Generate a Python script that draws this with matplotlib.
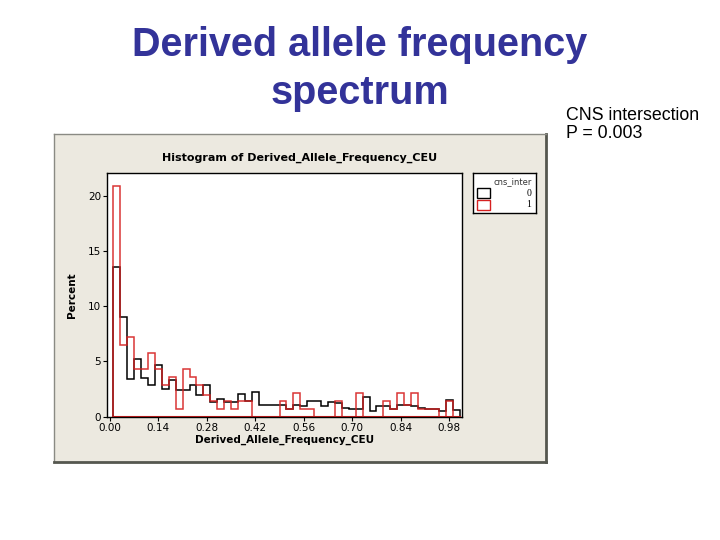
import numpy as np
import matplotlib
matplotlib.use('Agg')
import matplotlib.pyplot as plt
from matplotlib.patches import Rectangle

# bin edges 0.01 .. 1.01, width 0.02
edges = np.round(np.arange(0.01, 1.0101, 0.02), 2)

# percent per bin, cns_inter = 0 (black)
pct_0 = [13.6, 9.0, 3.4, 5.2, 3.5, 2.9, 4.7, 2.5, 3.3, 2.4,
         2.4, 2.9, 2.0, 2.9, 1.3, 1.6, 1.3, 1.3, 2.1, 1.45,
         2.2, 1.1, 1.1, 1.1, 1.1, 0.7, 1.1, 1.0, 1.4, 1.45,
         1.0, 1.3, 1.2, 0.75, 0.7, 0.7, 1.75, 0.5, 1.0, 1.0,
         0.7, 1.1, 1.1, 1.0, 0.8, 0.7, 0.7, 0.5, 1.5, 0.6]

# percent per bin, cns_inter = 1 (red)
pct_1 = [20.85, 6.45, 7.2, 4.3, 4.3, 5.75, 4.3, 2.9, 3.6, 0.72,
         4.3, 3.6, 2.9, 2.0, 1.44, 0.72, 1.44, 0.72, 1.44, 1.44,
         0, 0, 0, 0, 1.44, 0.72, 2.16, 0.72, 0.72, 0,
         0, 0, 1.44, 0, 0, 2.16, 0, 0, 0, 1.44,
         0.72, 2.16, 1.08, 2.16, 0.72, 0.72, 0.72, 0, 1.44, 0]

xticks = [0.00, 0.14, 0.28, 0.42, 0.56, 0.70, 0.84, 0.98]
yticks = [0, 5, 10, 15, 20]

beige = '#ECE9E0'
tickfont = 'DejaVu Sans'

fig = plt.figure(figsize=(7.2, 5.4), dpi=100)
fig.patch.set_facecolor('white')

# slide title and side note
fig.text(0.5, 0.952, 'Derived allele frequency\nspectrum', ha='center', va='top',
         fontsize=28.5, fontweight='bold', color='#333399', family='Liberation Sans',
         linespacing=1.33)
fig.text(0.786, 0.802, 'CNS intersection\nP = 0.003', ha='left', va='top',
         fontsize=12.8, color='black', family='Liberation Sans', linespacing=1.05)

# beige panel of the embedded Minitab graph
panel = fig.add_axes([0.075, 0.1444, 0.683, 0.607])
panel.set_facecolor(beige)
panel.set_xticks([])
panel.set_yticks([])
for s in ['top', 'left']:
    panel.spines[s].set_color('#8a8a84')
    panel.spines[s].set_linewidth(1.0)
for s in ['right', 'bottom']:
    panel.spines[s].set_color('#55574f')
    panel.spines[s].set_linewidth(2.0)

fig.text(0.4167, 0.708, 'Histogram of Derived_Allele_Frequency_CEU', ha='center',
         va='center', fontsize=8, fontweight='bold', family=tickfont)

ax = fig.add_axes([0.149, 0.2283, 0.493, 0.451])
ax.set_facecolor('white')

# black group, then red group on top, outlines only
ax.stairs(pct_0, edges, baseline=0, color='black', linewidth=1.1)
ax.stairs(pct_1, edges, baseline=0, color='#d62020', linewidth=1.1, alpha=0.9)
ax.plot([edges[0], edges[-1]], [0, 0], color='#d62020', linewidth=1.5)

ax.set_xlim(-0.0077, 1.0177)
ax.set_ylim(0, 22.05)
ax.set_xticks(xticks)
ax.set_xticklabels(['%.2f' % t for t in xticks])
ax.set_yticks(yticks)
ax.tick_params(direction='out', length=3, width=0.8, labelsize=7.5, pad=1.5)
for s in ax.spines.values():
    s.set_linewidth(1.0)
ax.set_xlabel('Derived_Allele_Frequency_CEU', fontsize=7.5, fontweight='bold',
              family=tickfont, labelpad=1)
ax.set_ylabel('Percent', fontsize=7.5, fontweight='bold', family=tickfont, labelpad=8)

# legend box
leg = fig.add_axes([0.6574, 0.606, 0.0867, 0.073])
leg.set_facecolor('white')
leg.set_xlim(0, 1)
leg.set_ylim(0, 1)
leg.set_xticks([])
leg.set_yticks([])
for s in leg.spines.values():
    s.set_linewidth(1.0)
leg.text(0.93, 0.78, 'cns_inter', ha='right', va='center', fontsize=6,
         family=tickfont, color='#333333')
for yy, lab, col in [(0.5, '0', 'black'), (0.2, '1', '#d62020')]:
    leg.add_patch(Rectangle((0.06, yy - 0.12), 0.2, 0.24, fill=False,
                            edgecolor=col, linewidth=1.0))
    leg.text(0.93, yy, lab, ha='right', va='center', fontsize=7,
             family='Liberation Serif')

fig.savefig('out.png', dpi=100)
